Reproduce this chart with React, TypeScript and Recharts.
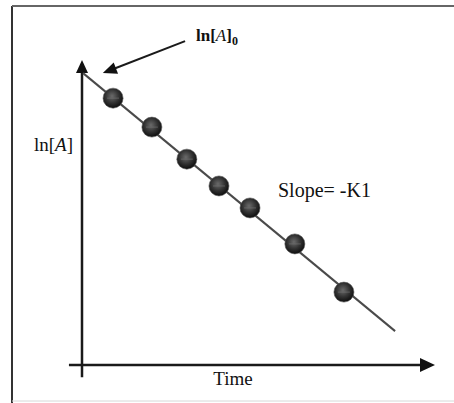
import React from 'react';
import { ComposedChart, Line, Scatter, XAxis, YAxis, ReferenceLine } from 'recharts';

// measured points (arbitrary units, axis origin = 0,0)
const timeValues = [0.88, 1.98, 2.97, 3.88, 4.76, 6.03, 7.42];
const lnAValues = [8.75, 7.8, 6.75, 5.87, 5.15, 3.97, 2.39];

// fitted straight line, slope = -K1
const fitTime = [0.03, 8.87];
const fitLnA = [9.57, 1.11];

const points = timeValues.map((t, i) => ({ t, v: lnAValues[i] }));
const fit = fitTime.map((t, i) => ({ t, v: fitLnA[i] }));

const FONT = '"Liberation Serif", "Times New Roman", serif';

const arrowShape = (head: number, half: number, width: number) => (props: any) => {
  const x1 = Number(props.x1), y1 = Number(props.y1);
  const x2 = Number(props.x2), y2 = Number(props.y2);
  const dx = x2 - x1, dy = y2 - y1;
  const len = Math.sqrt(dx * dx + dy * dy) || 1;
  const ux = dx / len, uy = dy / len;
  const bx = x2 - ux * head, by = y2 - uy * head;
  const px = -uy * half, py = ux * half;
  return (
    <g>
      <line x1={x1} y1={y1} x2={bx + ux * 2} y2={by + uy * 2} stroke="#1a1a1a" strokeWidth={width} />
      <polygon points={`${x2},${y2} ${bx + px},${by + py} ${bx - px},${by - py}`} fill="#111" />
    </g>
  );
};

const Ball = (props: any) => {
  const { cx, cy, index } = props;
  const id = `ball-${index}`;
  return (
    <g>
      <defs>
        <radialGradient id={id} cx="45%" cy="40%" r="60%">
          <stop offset="0%" stopColor="#6a6a6a" />
          <stop offset="55%" stopColor="#333" />
          <stop offset="100%" stopColor="#0d0d0d" />
        </radialGradient>
      </defs>
      <circle cx={cx} cy={cy} r={10} fill={`url(#${id})`} stroke="#555" strokeWidth={1} strokeOpacity={0.6} />
      <line x1={cx - 6} y1={cy} x2={cx + 6} y2={cy} stroke="#777" strokeWidth={1} opacity={0.6} />
    </g>
  );
};

export default function App() {
  return (
    <div style={{ position: 'fixed', left: 0, top: 0, width: 454, height: 403, background: '#fff' }}>
      <ComposedChart width={454} height={403} margin={{ top: 60, right: 19, bottom: 38, left: 82 }}>
        <XAxis type="number" dataKey="t" domain={[0, 10]} hide allowDataOverflow />
        <YAxis type="number" dataKey="v" domain={[0, 10]} hide allowDataOverflow />

        {/* frame */}
        <line x1={12} y1={6} x2={12} y2={403} stroke="#333" strokeWidth={2} />
        <line x1={12} y1={6} x2={454} y2={6} stroke="#666" strokeWidth={2} />
        <line x1={12} y1={401} x2={454} y2={401} stroke="#d8d8d8" strokeWidth={1} />

        <ReferenceLine
          segment={[{ x: 0, y: -0.4 }, { x: 0, y: 10 }]}
          ifOverflow="visible"
          shape={arrowShape(13, 6, 2.5)}
        />
        <ReferenceLine
          segment={[{ x: -0.37, y: 0 }, { x: 10, y: 0 }]}
          ifOverflow="visible"
          shape={arrowShape(15, 7, 2.5)}
        />
        <ReferenceLine
          segment={[{ x: 2.92, y: 10.62 }, { x: 0.59, y: 9.57 }]}
          ifOverflow="visible"
          shape={arrowShape(14, 6, 2)}
        />

        <Line
          data={fit}
          dataKey="v"
          type="linear"
          stroke="#4a4a4a"
          strokeWidth={2}
          dot={false}
          isAnimationActive={false}
        />
        <Scatter data={points} dataKey="v" shape={Ball} isAnimationActive={false} />

        <text x={196} y={41} fontFamily={FONT} fontSize={17} fill="#111">
          <tspan fontWeight="bold">ln[</tspan>
          <tspan fontStyle="italic">A</tspan>
          <tspan fontWeight="bold">]</tspan>
          <tspan fontSize={12} dy={4} fontWeight="bold">0</tspan>
        </text>
        <text x={34} y={151} fontFamily={FONT} fontSize={19} fill="#111">
          <tspan>ln[</tspan>
          <tspan fontStyle="italic">A</tspan>
          <tspan>]</tspan>
        </text>
        <text x={278} y={197} fontFamily={FONT} fontSize={20} fill="#111">
          Slope= -K1
        </text>
        <text x={233} y={385} textAnchor="middle" fontFamily={FONT} fontSize={19} fill="#111">
          Time
        </text>
      </ComposedChart>
    </div>
  );
}
